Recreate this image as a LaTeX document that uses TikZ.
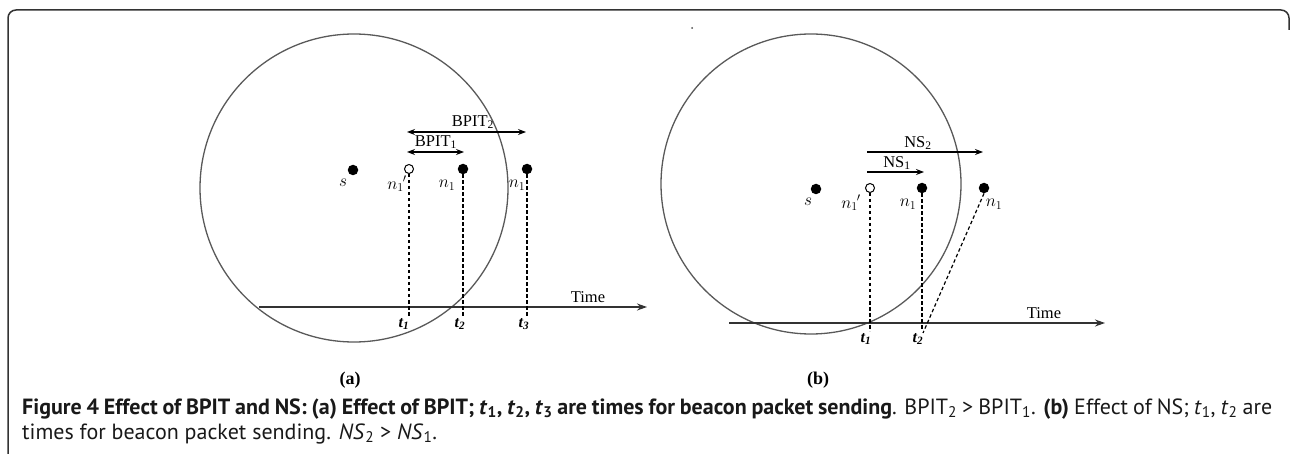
\documentclass[tikz,border=0pt]{standalone}
\usepackage{fontspec}
\setmainfont{Liberation Serif}
\newfontfamily\capfont{PT Sans}
\usetikzlibrary{arrows.meta}
\tikzset{
  framebox/.style={draw=black!80, line width=1.5pt, rounded corners=8pt},
  rangecircle/.style={draw=black!65, line width=1.3pt},
  dotnode/.style={circle, fill=black, inner sep=0pt, minimum size=10.5pt},
  odotnode/.style={circle, draw=black, fill=white, line width=1pt, inner sep=0pt, minimum size=9pt},
  vdash/.style={draw=black, line width=1.2pt, dash pattern=on 3.5pt off 2.5pt},
  axisline/.style={draw=black!80, line width=1.5pt, -{Stealth[length=10pt,width=7pt]}},
  darrow/.style={draw=black, line width=1.2pt, {Stealth[length=8pt,width=6pt]}-{Stealth[length=8pt,width=6pt]}},
  sarrow/.style={draw=black, line width=1.2pt, -{Stealth[length=8pt,width=6pt]}},
  lbl/.style={inner sep=0pt, font=\fontsize{16.5}{18}\selectfont},
  mlbl/.style={inner sep=0pt, font=\fontsize{16.5}{18}\selectfont},
  tlbl/.style={inner sep=0pt, font=\fontsize{16}{18}\selectfont\bfseries\itshape},
  sublbl/.style={inner sep=0pt, font=\fontsize{18}{20}\selectfont\bfseries},
  capline/.style={inner sep=0pt, anchor=base west, font=\capfont\fontsize{22}{25}\selectfont, text=black!90}
}
\begin{document}
\begin{tikzpicture}[x=1pt, y=-1pt]
\useasboundingbox (0,0) rectangle (1290,454);
% frame
\draw[framebox] (8,454) -- (8,10) -- (1289,10) -- (1289,30);
\fill[black!70] (692,28) circle[radius=1pt];

% ---------- panel (a)
\draw[rangecircle] (354,188) circle[radius=154];
\node[dotnode] (as) at (353,170) {};
\node[odotnode] (anp) at (409,169) {};
\node[dotnode] (an1) at (463,169) {};
\node[dotnode] (an2) at (527,169) {};
\node[mlbl] (aslab) at (343,183) {$s$};
\node[mlbl] (anplab) at (397,184) {$n_1\kern-1pt{}'$};
\node[mlbl] (an1lab) at (447,185) {$n_1$};
\node[mlbl] (an2lab) at (517,185) {$n_1$};
\coordinate (abL1) at (407,152);
\coordinate (abR1) at (464,152);
\coordinate (abL2) at (407,132);
\coordinate (abR2) at (526,132);
\draw[darrow] (abL1) -- (abR1);
\draw[darrow] (abL2) -- (abR2);
\node[lbl] (abpit1) at (436,142) {BPIT\textsubscript{1}};
\node[lbl] (abpit2) at (473,122) {BPIT\textsubscript{2}};
\coordinate (aaxL) at (259,307);
\coordinate (aaxR) at (647,307);
\draw[axisline] (aaxL) -- (aaxR);
\node[lbl] (atime) at (588,297) {Time};
\coordinate (ae1) at (409,316);
\coordinate (ae2) at (463,316);
\coordinate (ae3) at (527,316);
\draw[vdash] (anp.south) -- (ae1);
\draw[vdash] (an1.south) -- (ae2);
\draw[vdash] (an2.south) -- (ae3);
\node[tlbl] (at1) at (404,324) {t\textsubscript{1}};
\node[tlbl] (at2) at (460,324) {t\textsubscript{2}};
\node[tlbl] (at3) at (524,324) {t\textsubscript{3}};
\node[sublbl] (acap) at (350,380) {(a)};

% ---------- panel (b)
\draw[rangecircle] (811,184) circle[radius=150];
\node[dotnode] (bs) at (816,189) {};
\node[odotnode] (bnp) at (870,188) {};
\node[dotnode] (bn1) at (922,188) {};
\node[dotnode] (bn2) at (984,188) {};
\node[mlbl] (bslab) at (808,202) {$s$};
\node[mlbl] (bnplab) at (851,203) {$n_1\kern-1pt{}'$};
\node[mlbl] (bn1lab) at (908,204) {$n_1$};
\node[mlbl] (bn2lab) at (994,204) {$n_1$};
\coordinate (bnL1) at (867,172);
\coordinate (bnR1) at (924,172);
\coordinate (bnL2) at (867,152);
\coordinate (bnR2) at (983,152);
\draw[sarrow] (bnL1) -- (bnR1);
\draw[sarrow] (bnL2) -- (bnR2);
\node[lbl] (bns1) at (897,163) {NS\textsubscript{1}};
\node[lbl] (bns2) at (918,143) {NS\textsubscript{2}};
\coordinate (baxL) at (729,323);
\coordinate (baxR) at (1105,323);
\draw[axisline] (baxL) -- (baxR);
\node[lbl] (btime) at (1044,313) {Time};
\coordinate (be1) at (870,331);
\coordinate (be2) at (922,331);
\coordinate (be3) at (923,333);
\draw[vdash] (bnp.south) -- (be1);
\draw[vdash] (bn1.south) -- (be2);
\draw[vdash] (bn2.south) -- (be3);
\node[tlbl] (bt1) at (866,339) {t\textsubscript{1}};
\node[tlbl] (bt2) at (918,339) {t\textsubscript{2}};
\node[sublbl] (bcap) at (818,380) {(b)};

% ---------- caption
\node[capline] (cap1) at (22,414) {\makebox[1250pt][s]{\textbf{Figure 4 Effect of BPIT and NS: (a) Effect of BPIT; \textit{t}\textsubscript{1}, \textit{t}\textsubscript{2}, \textit{t}\textsubscript{3} are times for beacon packet sending}. BPIT\textsubscript{2} > BPIT\textsubscript{1}. \textbf{(b)} Effect of NS; \textit{t}\textsubscript{1}, \textit{t}\textsubscript{2} are}};
\node[capline] (cap2) at (22,439) {times for beacon packet sending. \textit{NS}\textsubscript{2} > \textit{NS}\textsubscript{1}.};
\end{tikzpicture}
\end{document}
